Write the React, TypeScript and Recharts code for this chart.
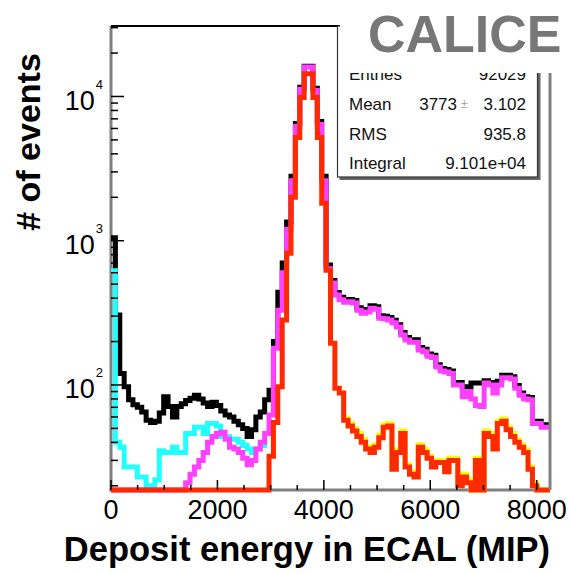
import React from 'react';
import { LineChart, Line, XAxis, YAxis, ReferenceLine } from 'recharts';

// histogram binning (MIP)
const BIN_WIDTH = 82.5;
const X_MAX = 8250;
const Y_MIN = 18.7;
const Y_MAX = 30800;
const E = Y_MIN; // empty bin, drawn on the frame bottom

const X_TICKS = [0, 500, 1000, 1500, 2000, 2500, 3000, 3500, 4000, 4500, 5000, 5500, 6000, 6500, 7000, 7500, 8000];
const X_LABELS = [0, 2000, 4000, 6000, 8000];
const Y_TICKS = [
  20, 30, 40, 50, 60, 70, 80, 90, 100,
  200, 300, 400, 500, 600, 700, 800, 900, 1000,
  2000, 3000, 4000, 5000, 6000, 7000, 8000, 9000, 10000,
  20000, 30000,
];

// all events
const allEvents = [
  1050, 305, 120, 97, 79, 73, 70, 65, 57, 55,
  56, 64, 83, 71, 60, 71, 74, 78, 81, 85,
  80, 75, 71, 76, 72, 66, 62, 60, 56, 53,
  50, 44, 49, 60, 65, 79, 92, 200, 440, 700,
  1350, 2800, 6500, 11600, 16200, 16200, 11400, 6700, 2800, 680,
  530, 437, 405, 390, 392, 385, 343, 327, 333, 354,
  348, 302, 300, 293, 281, 262, 231, 213, 206, 206,
  182, 177, 164, 161, 138, 130, 128, 125, 104, 104,
  97, 97, 103, 103, 103, 107, 104, 100, 106, 117,
  117, 114, 99, 88, 83, 82, 56, 56, 53, 53,
];

const cyanCut = [
  620, 40, 37, 27, 27, 27, 23, 23, 20, 20,
  22, 35, 34, 34, 37, 34, 34, 46, 46, 51,
  51, 46, 54, 54, 52, 44, 44, 42, 42, 40,
  38, 36, 34, 36, 38, 40, null, null, null, null,
  null, null, null, null, null, null, null, null, null, null,
  null, null, null, null, null, null, null, null, null, null,
  null, null, null, null, null, null, null, null, null, null,
  null, null, null, null, null, null, null, null, null, null,
  null, null, null, null, null, null, null, null, null, null,
  null, null, null, null, null, null, null, null, null, null,
];

const magentaCut = [
  E, E, E, E, E, E, E, E, E, E,
  E, E, E, E, E, E, E, 21, 24, 27,
  30, 34, 40, 44, 46, 47, 42, 37, 36, 34,
  31, 28, 30, 36, 40, 46, 62, 180, 330, 600,
  1200, 2600, 6200, 11200, 16000, 16000, 11000, 6400, 2600, 640,
  510, 420, 390, 375, 377, 370, 330, 314, 320, 340,
  335, 290, 288, 282, 270, 252, 222, 205, 198, 198,
  175, 170, 158, 155, 133, 125, 123, 120, 100, 100,
  83, 90, 80, 72, 71, 103, 100, 88, 100, 112,
  112, 110, 95, 85, 80, 79, 54, 54, 51, 51,
];

const yellowCut = [
  null, null, null, null, null, null, null, null, null, null,
  null, null, null, null, null, null, null, null, null, null,
  null, null, null, null, null, null, null, null, null, null,
  null, null, null, null, null, null, null, null, null, null,
  null, null, null, null, null, null, null, null, null, null,
  null, null, null, 59, 54, 50, 46, 42, 37.5, 35.5,
  38.5, 45, 53, 54, 27, 35.5, 48, 28, 25, 24,
  38.5, 35.5, 32, 28, 30, 30, 26, 31, 31, 21,
  24, 22, E, 31, E, 48, 46, 37.5, 56, 58,
  51, 46, 41.5, 38.5, 35.5, 27, 21, E, E, E,
];

const redCut = [
  E, E, E, E, E, E, E, E, E, E,
  E, E, E, E, E, E, E, E, E, E,
  E, E, E, E, E, E, E, E, E, E,
  E, E, E, E, E, E, 32, 55, 97, 282,
  818, 2000, 5200, 9840, 14400, 14400, 9840, 5200, 1820, 625,
  195, 95, 88, 57, 52, 48, 44, 40, 36, 34,
  37, 43, 51, 52, 26, 34, 46, 27, 24, 23,
  37, 34, 31, 27, 29, 29, 25, 30, 30, 20,
  23, 21, E, 30, E, 46, 44, 36, 54, 56,
  49, 44, 40, 37, 34, 26, 20, E, E, E,
];

const NBINS = allEvents.length;
const data = Array.from({ length: NBINS + 1 }, (_, i) => {
  const k = Math.min(i, NBINS - 1);
  return {
    x: i * BIN_WIDTH,
    all: allEvents[k],
    cyan: cyanCut[k],
    magenta: magentaCut[k],
    yellow: yellowCut[k],
    red: redCut[k],
  };
});

const FONT = '"Liberation Sans", Arial, Helvetica, sans-serif';

const XTick = (props: any) => {
  const { x, y, payload } = props;
  const major = X_LABELS.includes(payload.value);
  return (
    <g>
      <line x1={x} x2={x} y1={y} y2={y - (major ? 10 : 5)} stroke="#000" strokeWidth={1.5} />
      {major && (
        <text x={x} y={y + 29} textAnchor="middle" fontSize={27} fontFamily={FONT} fill="#000">
          {payload.value}
        </text>
      )}
    </g>
  );
};

const YTick = (props: any) => {
  const { x, y, payload } = props;
  const lg = Math.log10(payload.value);
  const exp = Math.round(lg);
  const major = Math.abs(lg - exp) < 1e-6;
  return (
    <g>
      <line x1={x} x2={x + (major ? 13 : 7)} y1={y} y2={y} stroke="#000" strokeWidth={1.5} />
      {major && (
        <text x={x - 8} y={y + 13.5} textAnchor="end" fontSize={27} fontFamily={FONT} fill="#000">
          10
          <tspan dx={1} dy={-21} fontSize={13}>
            {exp}
          </tspan>
        </text>
      )}
    </g>
  );
};

const lineProps = {
  type: 'stepAfter' as const,
  dot: false,
  activeDot: false,
  strokeWidth: 5,
  strokeLinejoin: 'miter' as const,
  strokeLinecap: 'butt' as const,
  isAnimationActive: false,
  connectNulls: false,
};

export default function App() {
  return (
    <div style={{ position: 'absolute', left: 0, top: 0, width: 570, height: 574, background: '#fff' }}>
      {/* frame lines behind the histograms */}
      <svg width={570} height={574} style={{ position: 'absolute', left: 0, top: 0 }}>
        <line x1={111} x2={111} y1={26} y2={491.5} stroke="#808080" strokeWidth={3} />
        <line x1={109.5} x2={550} y1={490} y2={490} stroke="#808080" strokeWidth={3} />
      </svg>

      <div style={{ position: 'absolute', left: 0, top: 0 }}>
        <LineChart width={570} height={574} data={data} margin={{ top: 26, right: 20, bottom: 0, left: 0 }}>
          <XAxis
            dataKey="x"
            type="number"
            domain={[0, X_MAX]}
            ticks={X_TICKS}
            interval={0}
            height={84}
            tickSize={0}
            tickMargin={0}
            tickLine={false}
            axisLine={false}
            tick={<XTick />}
          />
          <YAxis
            type="number"
            scale="log"
            domain={[Y_MIN, Y_MAX]}
            ticks={Y_TICKS}
            interval={0}
            width={111}
            tickSize={0}
            tickMargin={0}
            tickLine={false}
            axisLine={false}
            tick={<YTick />}
          />
          <Line {...lineProps} dataKey="all" stroke="#000000" />
          <Line {...lineProps} dataKey="cyan" stroke="#22ffff" />
          <Line {...lineProps} dataKey="magenta" stroke="#ff40ff" />
          <Line {...lineProps} dataKey="yellow" stroke="#ffff00" />
          <Line {...lineProps} dataKey="red" stroke="#ff2a00" />
          <ReferenceLine y={Y_MAX} stroke="#000" strokeWidth={2} />
          <ReferenceLine x={X_MAX} stroke="#808080" strokeWidth={3} />
        </LineChart>
      </div>

      <svg
        width={570}
        height={574}
        style={{ position: 'absolute', left: 0, top: 0, pointerEvents: 'none' }}
        fontFamily={FONT}
      >
        <text
          x={40}
          y={142}
          transform="rotate(-90 40 142)"
          textAnchor="middle"
          fontSize={34}
          fontWeight="bold"
          fill="#000"
        >
          # of events
        </text>
        <text x={307} y={561} textAnchor="middle" fontSize={34.5} fontWeight="bold" fill="#000">
          Deposit energy in ECAL (MIP)
        </text>

        {/* stats box */}
        <rect x={339.5} y={28} width={201} height={152} fill="#666" />
        <rect x={337.5} y={26} width={200} height={151} fill="#fff" stroke="#333" strokeWidth={1.2} />
        <g fontSize={17} fill="#111">
          <text x={349} y={80}>Entries</text>
          <text x={526} y={80} textAnchor="end">92029</text>
          <text x={349} y={110}>Mean</text>
          <text x={457} y={110} textAnchor="end">3773</text>
          <text x={461} y={108} fontSize={12} fill="#aaa">±</text>
          <text x={526} y={110} textAnchor="end">3.102</text>
          <text x={349} y={140}>RMS</text>
          <text x={526} y={140} textAnchor="end">935.8</text>
          <text x={349} y={169}>Integral</text>
          <text x={526} y={169} textAnchor="end">9.101e+04</text>
        </g>

        <rect x={340} y={0} width={230} height={73} fill="#fff" />
        <text x={368} y={52} fontSize={52} fontWeight="bold" fill="#777">
          CALICE
        </text>
      </svg>
    </div>
  );
}
